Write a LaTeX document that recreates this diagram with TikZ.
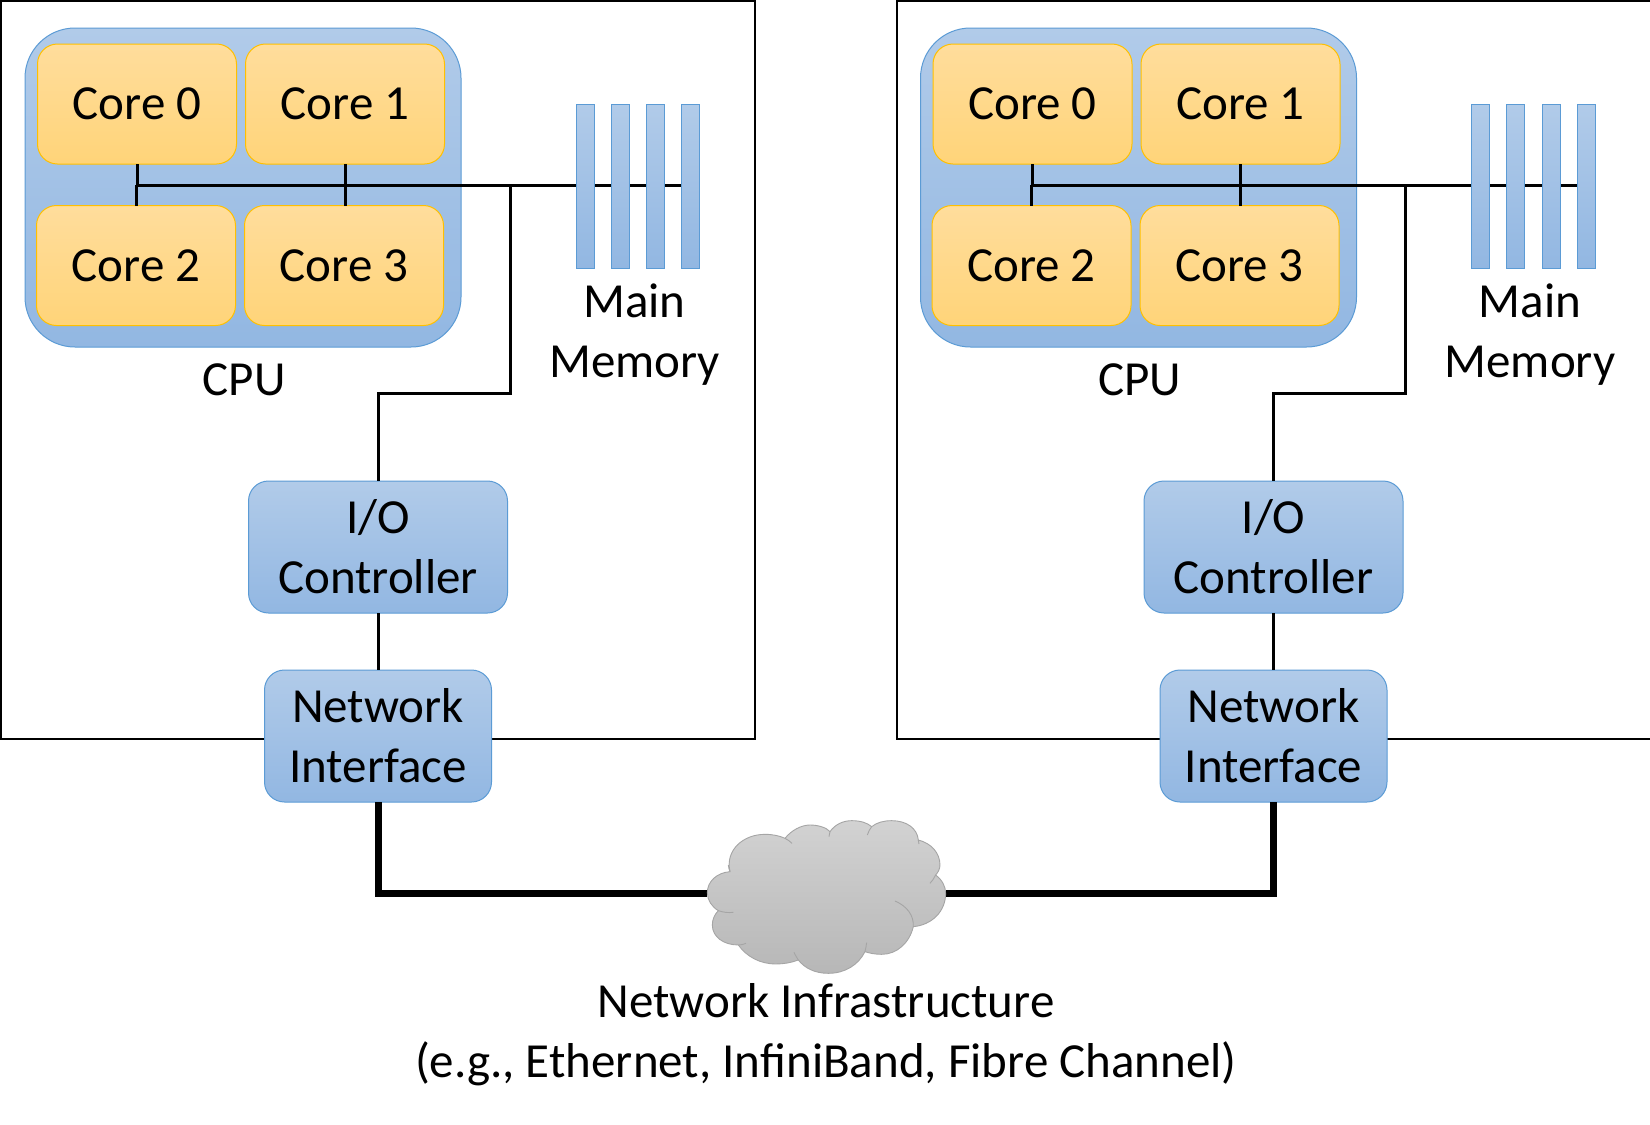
\documentclass[tikz,border=0pt]{standalone}
\usepackage{fontspec}
\setmainfont{Carlito}
\tikzset{
  every node/.style={inner sep=0pt,outer sep=0pt,align=center,font=\fontsize{49}{60}\selectfont},
  frame/.style={draw=black,line width=2pt,fill=white,minimum width=754pt,minimum height=738pt},
  bluebox/.style={draw=boxedge,line width=1pt,top color=bluetop,bottom color=bluebot,rounded corners=#1},
  bluebox/.default=20pt,
  corebox/.style={draw=coreedge,line width=1pt,top color=coretop,bottom color=corebot,rounded corners=20pt,minimum width=199pt,minimum height=120pt},
  membar/.style={draw=boxedge,line width=1pt,top color=bluetop,bottom color=bluebot,minimum width=18pt,minimum height=164pt},
  wire/.style={draw=black,line width=3pt},
  thickwire/.style={draw=black,line width=7pt,line join=miter},
  cloudskin/.style={draw=cloudedge,line width=.9pt,top color=cloudtop,bottom color=cloudbot},
  cloudfold/.style={draw=cloudedge,line width=.9pt}
}
\definecolor{boxedge}{HTML}{5B9BD5}
\definecolor{bluetop}{HTML}{B1CBE9}
\definecolor{bluebot}{HTML}{92B7E2}
\definecolor{coreedge}{HTML}{FFC000}
\definecolor{coretop}{HTML}{FFDD9C}
\definecolor{corebot}{HTML}{FFD479}
\definecolor{cloudedge}{HTML}{A5A5A5}
\definecolor{cloudtop}{HTML}{D2D2D2}
\definecolor{cloudbot}{HTML}{B7B7B7}
\newcommand{\computer}[2]{%
\begin{scope}[xshift=#1pt]
  \node[frame] (#2frame) at (378,370) {};
  \node[bluebox=50pt,minimum width=436pt,minimum height=319pt] (#2cpu) at (243,187.5) {};
  \coordinate (#2busL) at (137,185);
  \coordinate (#2junction) at (510,185);
  \coordinate (#2bendA) at (510,393.5);
  \coordinate (#2bendB) at (378,393.5);
  \node[membar] (#2mem1) at (585,186) {};
  \node[bluebox,minimum width=259pt,minimum height=132pt] (#2io) at (378,547) {I/O\\Controller};
  \node[bluebox,minimum width=227pt,minimum height=132pt] (#2net) at (378,736) {Network\\Interface};
  \node[corebox] (#2c0) at (137,104) {Core 0};
  \node[corebox] (#2c1) at (345,104) {Core 1};
  \node[corebox] (#2c2) at (136,265.5) {Core 2};
  \node[corebox] (#2c3) at (344,265.5) {Core 3};
  \node[membar] (#2mem2) at (620,186) {};
  \node[membar] (#2mem3) at (655.5,186) {};
  \node[membar] (#2mem4) at (690.5,186) {};
  \draw[wire] (#2busL) -- (#2mem4.west |- #2busL);
  \draw[wire] (#2c0.south) -- (#2c0.south |- #2busL);
  \draw[wire] (#2c2.north) -- (#2c2.north |- #2busL);
  \draw[wire] (#2c1.south) -- (#2c3.north -| #2c1.south);
  \draw[wire,line join=miter] (#2junction) -- (#2bendA) -- (#2bendB) -- (#2io.north);
  \draw[wire] (#2io.south) -- (#2net.north);
  \node[membar] at (#2mem1) {};
  \node[membar] at (#2mem2) {};
  \node[membar] at (#2mem3) {};
  \node[membar] at (#2mem4) {};
  \node (#2cpulabel) at (244,380) {CPU};
  \node (#2memlabel) at (634.5,335) {Main\\Memory};
\end{scope}}
\begin{document}
\begin{tikzpicture}[x=1pt,y=-1pt]
  \path[use as bounding box,fill=white] (0,0) rectangle (1650,1125);
  \computer{0}{a}
  \computer{895.5}{b}
  \node[minimum width=239pt,minimum height=152pt] (cloud) at (826.5,893) {};
  \draw[thickwire] (anet.south) |- (cloud.west);
  \draw[thickwire] (bnet.south) |- (cloud.east);
  \begin{scope}[shift={(650,780)},x=.3333pt,y=-.3333pt]
    \path[cloudskin] (240,275)
      .. controls (225,210) and (280,163) .. (345,163)
      .. controls (370,163) and (390,168) .. (405,175)
      .. controls (425,150) and (455,135) .. (480,135)
      .. controls (505,135) and (530,143) .. (540,155)
      .. controls (555,133) and (580,122) .. (605,122)
      .. controls (630,122) and (652,128) .. (665,140)
      .. controls (680,128) and (700,122) .. (725,122)
      .. controls (770,122) and (802,145) .. (805,180)
      .. controls (845,190) and (870,220) .. (870,255)
      .. controls (870,265) and (865,277) .. (857,285)
      .. controls (877,300) and (887,320) .. (887,340)
      .. controls (887,395) and (845,435) .. (790,440)
      .. controls (778,490) and (740,523) .. (695,523)
      .. controls (676,523) and (660,520) .. (645,515)
      .. controls (625,555) and (585,580) .. (535,580)
      .. controls (495,580) and (465,565) .. (445,540)
      .. controls (425,548) and (400,552) .. (378,552)
      .. controls (330,552) and (290,530) .. (265,495)
      .. controls (220,495) and (187,470) .. (187,435)
      .. controls (187,418) and (194,403) .. (205,392)
      .. controls (185,380) and (172,360) .. (172,338)
      .. controls (172,305) and (200,278) .. (240,275) -- cycle;
    \draw[cloudfold] (405,175) .. controls (413,179) and (420,184) .. (426,190);
    \draw[cloudfold] (540,155) .. controls (540,160) and (539,165) .. (537,170);
    \draw[cloudfold] (665,140) .. controls (660,147) and (655,155) .. (652,165);
    \draw[cloudfold] (805,180) .. controls (806,184) and (807,188) .. (807,192);
    \draw[cloudfold] (857,285) .. controls (852,295) and (847,303) .. (840,310);
    \draw[cloudfold] (790,440) .. controls (792,405) and (770,378) .. (735,363);
    \draw[cloudfold] (645,515) .. controls (647,506) and (649,497) .. (650,488);
    \draw[cloudfold] (445,540) .. controls (440,533) and (436,525) .. (432,517);
    \draw[cloudfold] (265,495) .. controls (273,495) and (281,493) .. (288,490);
    \draw[cloudfold] (205,392) .. controls (220,397) and (235,399) .. (250,397);
    \draw[cloudfold] (240,275) .. controls (237,268) and (236,262) .. (235,255);
  \end{scope}
  \node (nettext) at (826,1035) {Network Infrastructure\\(e.g., Ethernet, InfiniBand, Fibre Channel)};
\end{tikzpicture}
\end{document}
